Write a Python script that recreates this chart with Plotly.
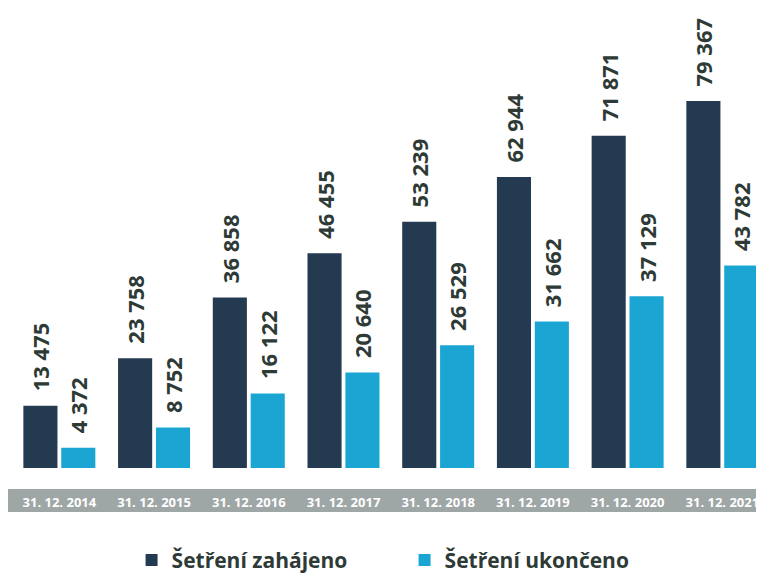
import plotly.graph_objects as go

categories = ["31. 12. 2014", "31. 12. 2015", "31. 12. 2016", "31. 12. 2017",
              "31. 12. 2018", "31. 12. 2019", "31. 12. 2020", "31. 12. 2021"]
zahajeno = [13475, 23758, 36858, 46455, 53239, 62944, 71871, 79367]
ukonceno = [4372, 8752, 16122, 20640, 26529, 31662, 37129, 43782]
series_names = ["Šetření zahájeno", "Šetření ukončeno"]

DARK = "#243a50"
CYAN = "#1aa5d3"
TXT = "#2d3a36"
FONT = "Open Sans"

def label(v):
    return "\u00a0\u00a0" + f"{v:,}".replace(",", " ")

fig = go.Figure()
for name, vals, col in [(series_names[0], zahajeno, DARK), (series_names[1], ukonceno, CYAN)]:
    fig.add_trace(go.Bar(
        x=categories, y=vals, name=name,
        marker=dict(color=col, line=dict(width=0)),
        text=[label(v) for v in vals],
        textposition="outside", textangle=-90, constraintext="none",
        cliponaxis=False,
        textfont=dict(family=FONT, size=22, color=TXT, weight="bold"),
    ))

fig.update_layout(
    width=756, height=566,
    margin=dict(l=4, r=0, t=0, b=106, autoexpand=False),
    paper_bgcolor="white", plot_bgcolor="white",
    barmode="group", bargap=0.2, bargroupgap=0.1,
    showlegend=True,
    legend=dict(orientation="h", x=0.159, y=-0.156, xanchor="left", yanchor="top",
                font=dict(family=FONT, size=21, color=TXT, weight="bold"),
                entrywidth=228, traceorder="normal"),
    xaxis=dict(type="category", range=[-0.5, 7.44], showgrid=False, showline=False,
               zeroline=False, ticks="", ticklabelstandoff=25, automargin=False,
               tickfont=dict(family=FONT, size=13, color="white", weight="bold")),
    yaxis=dict(range=[0, 99481], visible=False, showgrid=False, zeroline=False,
               automargin=False),
    shapes=[dict(type="rect", xref="paper", yref="paper",
                 x0=-0.0053, x1=1.0, y0=-0.0957, y1=-0.0457,
                 fillcolor="#9fa6a6", line=dict(width=0), layer="below")],
)

fig.write_html("out.html")
